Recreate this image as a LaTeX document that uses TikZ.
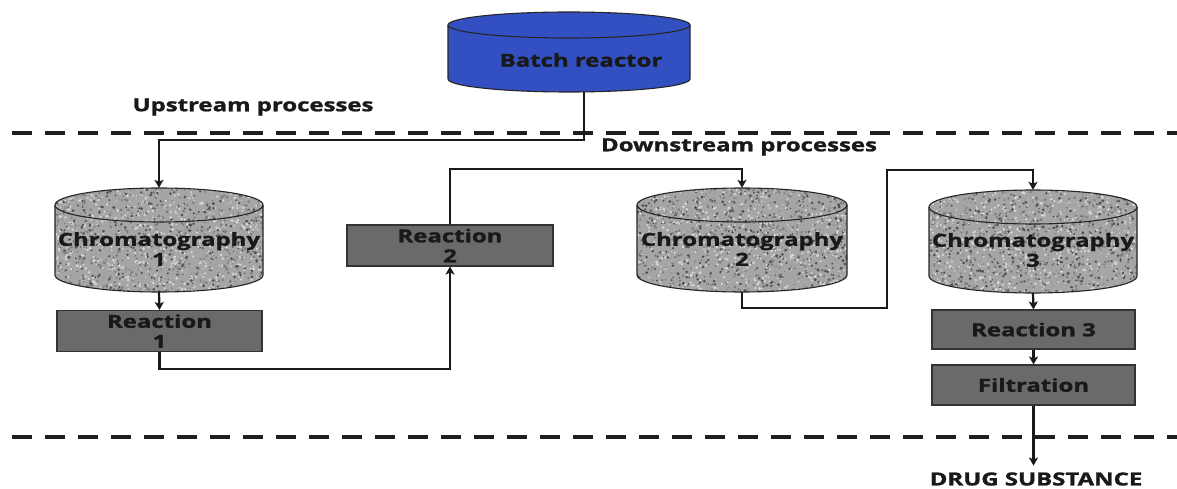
\documentclass[tikz,border=0pt]{standalone}
\usepackage{fontspec}
\setmainfont{Open Sans}
\newfontfamily\heavy[FakeBold=1.2]{Open Sans Bold}
\usetikzlibrary{arrows.meta}
\definecolor{reactorblue}{RGB}{50,80,194}
\definecolor{boxgray}{RGB}{106,106,106}
\definecolor{granbase}{RGB}{165,165,165}
\definecolor{gdark}{RGB}{80,80,80}
\definecolor{gmid}{RGB}{125,125,125}
\definecolor{glight}{RGB}{215,215,215}
\newcommand{\stx}[1]{\scalebox{1.33}[1]{#1}}
\newcommand{\cylpath}[5]{({#1-#4},{-#2-#5}) -- ({#1-#4},{-#3+#5}) arc[start angle=180,end angle=360,x radius=#4,y radius=#5] -- ({#1+#4},{-#2-#5}) arc[start angle=0,end angle=180,x radius=#4,y radius=#5] -- cycle}
\newcommand{\granite}[4]{%
  \foreach \i in {1,...,1500}{%
    \pgfmathsetmacro{\px}{(#1)+(#3)*rnd}%
    \pgfmathsetmacro{\py}{(#2)+(#4)*rnd}%
    \pgfmathsetmacro{\pr}{0.6+1.0*rnd}%
    \pgfmathsetmacro{\pc}{rnd}%
    \ifdim\pc pt<0.3pt \fill[gdark] (\px,\py) circle (\pr);
    \else\ifdim\pc pt<0.6pt \fill[gmid] (\px,\py) circle (\pr);
    \else \fill[glight] (\px,\py) circle (\pr);\fi\fi
  }}
% name, cx, ytop, ybot, half width, ry, fill colour, textured (1/0)
\newcommand{\drawcyl}[8]{%
  \node[inner sep=0,minimum width={2*#5},minimum height={#4-#3}] (#1) at (#2,{-(#3+#4)/2}) {};
  \fill[#7] \cylpath{#2}{#3}{#4}{#5}{#6};
  \ifnum#8=1
  \begin{scope}
    \clip \cylpath{#2}{#3}{#4}{#5}{#6};
    \granite{#2-#5}{-#4}{2*#5}{#4-#3}
  \end{scope}
  \fi
  \draw[cylline] ({#2-#5},{-#3-#6}) -- ({#2-#5},{-#4+#6}) arc[start angle=180,end angle=360,x radius=#5,y radius=#6] -- ({#2+#5},{-#3-#6});
  \draw[cylline] (#2,{-#3-#6}) ellipse [x radius=#5,y radius=#6];
}
\tikzset{
  cylline/.style={draw=black!85,line width=1.1pt},
  lbl/.style={font=\fontsize{18}{20}\selectfont\heavy,align=center,inner sep=0pt,text=black!90},
  procbox/.style={draw=black!80,line width=1.1pt,fill=boxgray,minimum width=205pt,minimum height=41pt,inner sep=0pt,font=\fontsize{18}{20}\selectfont\heavy,align=center,text=black!90},
  conn/.style={line width=2.2pt,draw=black!90,-{Stealth[length=8pt,width=9pt,inset=2pt]}},
  sep/.style={line width=3.6pt,draw=black!88,dash pattern=on 20pt off 13pt},
}
\begin{document}
\begin{tikzpicture}[x=1pt,y=1pt]
\pgfmathsetseed{4242}
\useasboundingbox (0,0) rectangle (1177,-489);
\fill[white] (0,0) rectangle (1177,-489);

% separators
\draw[sep] (12,-133) -- (1177,-133);
\draw[sep] (12,-437) -- (1177,-437);

% batch reactor
\drawcyl{batch}{569}{12}{92}{121}{13}{reactorblue}{0}
\node[lbl] (batchlbl) at (581,-60) {\stx{Batch reactor}};

% chromatography columns
\drawcyl{cA}{159}{188}{292}{104}{17}{granbase}{1}
\node[lbl] (cAlbl) at (159,-249) {\stx{Chromatography}\\\stx{1}};
\drawcyl{cB}{742}{188}{292}{105}{17}{granbase}{1}
\node[lbl] (cBlbl) at (742,-249) {\stx{Chromatography}\\\stx{2}};
\drawcyl{cC}{1033}{190}{293}{104}{17}{granbase}{1}
\node[lbl] (cClbl) at (1033,-250) {\stx{Chromatography}\\\stx{3}};

% reaction boxes
\node[procbox] (rA) at (159.5,-331) {\stx{Reaction}\\\stx{1}};
\node[procbox,minimum width=206pt] (rB) at (450,-245.5) {\stx{Reaction}\\\stx{2}};
\node[procbox,minimum width=203pt,minimum height=39pt] (rC) at (1033.5,-329.5) {\stx{Reaction 3}};
\node[procbox,minimum width=203pt,minimum height=40pt] (filt) at (1033.5,-385) {\stx{Filtration}};

% labels
\node[lbl] (up) at (253,-107) {\stx{Upstream processes}};
\node[lbl] (down) at (739,-147) {\stx{Downstream processes}};
\node[lbl] (drug) at (1036,-479) {\stx{DRUG SUBSTANCE}};

% connectors
\draw[conn] ([xshift=15pt]batch.south) -- ++(0,-48) -| (cA.north);
\draw[conn] (cA.south) -- (rA.north);
\draw[conn] (rA.south) -- ++(0,-17) -| (rB.south);
\draw[conn] (rB.north) -- ++(0,55.5) -| (cB.north);
\draw[conn] (cB.south) -- ++(0,-16) -- ++(145,0) -- ++(0,138) -| (cC.north);
\draw[conn] (cC.south) -- (rC.north);
\draw[conn] (rC.south) -- (filt.north);
\draw[conn] (filt.south) -- ++(0,-60);
\end{tikzpicture}
\end{document}
